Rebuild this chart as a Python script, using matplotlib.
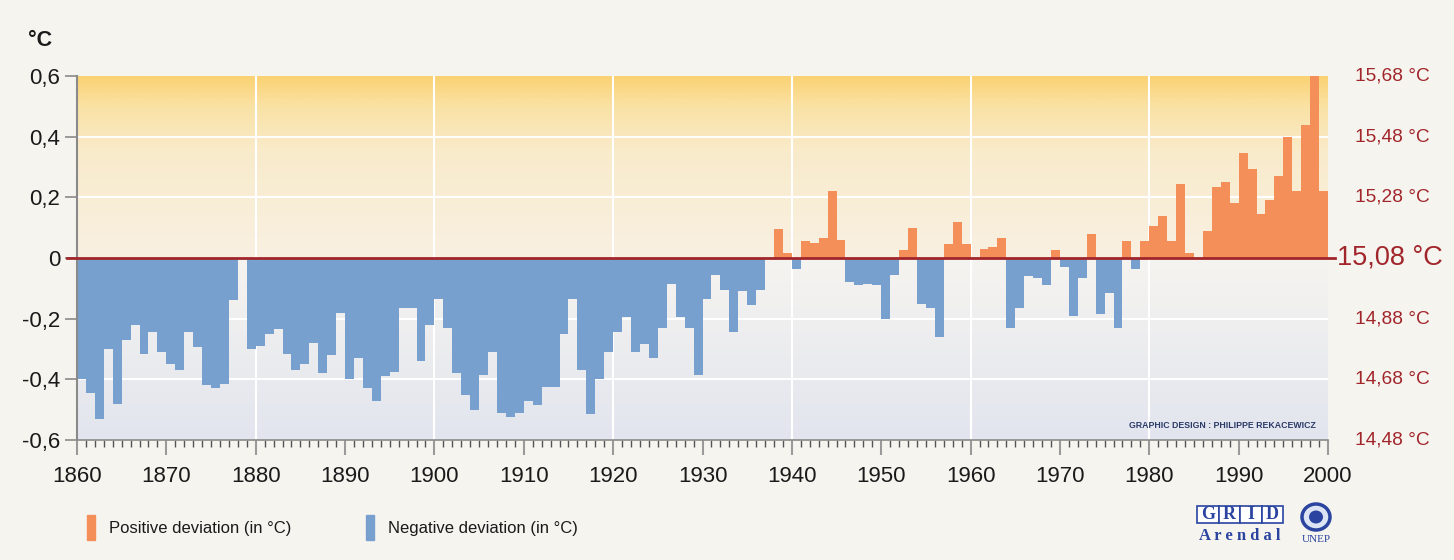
import numpy as np
import matplotlib
matplotlib.use("Agg")
import matplotlib.pyplot as plt
from matplotlib import transforms
from matplotlib.patches import Rectangle, Ellipse

plt.rcParams["font.family"] = ["Liberation Sans", "DejaVu Sans"]

# data: yearly deviation from 15,08 °C
years = list(range(1860, 2000))
deviation = [
    -0.40, -0.445, -0.53, -0.30, -0.48, -0.27, -0.22, -0.315, -0.245, -0.31,    # 1860s
    -0.35, -0.37, -0.245, -0.295, -0.42, -0.43, -0.415, -0.14, 0.0, -0.30,      # 1870s
    -0.29, -0.25, -0.235, -0.315, -0.37, -0.35, -0.28, -0.38, -0.32, -0.18,     # 1880s
    -0.40, -0.33, -0.43, -0.47, -0.39, -0.375, -0.165, -0.165, -0.34, -0.22,    # 1890s
    -0.135, -0.23, -0.38, -0.45, -0.50, -0.385, -0.31, -0.51, -0.525, -0.51,    # 1900s
    -0.47, -0.485, -0.425, -0.425, -0.25, -0.135, -0.37, -0.515, -0.40, -0.31,  # 1910s
    -0.245, -0.195, -0.31, -0.285, -0.33, -0.23, -0.085, -0.195, -0.23, -0.385, # 1920s
    -0.135, -0.055, -0.105, -0.245, -0.11, -0.155, -0.105, 0.0, 0.095, 0.015,   # 1930s
    -0.035, 0.055, 0.05, 0.065, 0.22, 0.06, -0.08, -0.09, -0.085, -0.09,        # 1940s
    -0.20, -0.055, 0.025, 0.10, -0.15, -0.165, -0.26, 0.045, 0.12, 0.045,       # 1950s
    0.0, 0.03, 0.035, 0.065, -0.23, -0.165, -0.06, -0.065, -0.09, 0.025,        # 1960s
    -0.03, -0.19, -0.065, 0.08, -0.185, -0.115, -0.23, 0.055, -0.035, 0.055,    # 1970s
    0.105, 0.14, 0.055, 0.245, 0.015, 0.0, 0.09, 0.235, 0.25, 0.18,             # 1980s
    0.345, 0.295, 0.145, 0.19, 0.27, 0.40, 0.22, 0.44, 0.60, 0.22,              # 1990s
]

y_ticks = [-0.6, -0.4, -0.2, 0.0, 0.2, 0.4, 0.6]
y_labels = ["-0,6", "-0,4", "-0,2", "0", "0,2", "0,4", "0,6"]
abs_labels = ["14,48 °C", "14,68 °C", "14,88 °C", "15,08 °C", "15,28 °C", "15,48 °C", "15,68 °C"]
x_ticks = list(range(1860, 2001, 10))

POS = "#F48F5A"
NEG = "#78A0CF"
RED = "#A1262B"
NAVY = "#2A44A0"
W, H = 1454, 560

fig = plt.figure(figsize=(W / 100, H / 100), dpi=100)
fig.patch.set_facecolor("#F6F4EF")
ax = fig.add_axes([77 / W, 1 - 440 / H, (1328 - 77) / W, (440 - 76) / H])

# background gradient: gold at the top, cream at zero, grey-blue at the bottom
gy = np.linspace(-0.6, 0.6, 400)
stop_y = [-0.6, -0.001, 0.001, 0.35, 0.5, 0.6]
stop_c = np.array([(226, 229, 238), (246, 244, 240), (248, 240, 226),
                   (249, 235, 203), (250, 226, 165), (250, 210, 115)]) / 255
grad = np.stack([np.interp(gy, stop_y, stop_c[:, i]) for i in range(3)], axis=-1)
ax.imshow(grad[:, None, :], extent=[1860, 2000, -0.6, 0.6], origin="lower",
          aspect="auto", zorder=0, interpolation="bilinear")

for v in [-0.4, -0.2, 0.2, 0.4]:
    ax.axhline(v, color="white", lw=1.5, zorder=1)
for x in range(1880, 2000, 20):
    ax.axvline(x, color="white", lw=1.5, zorder=1)

colors = [POS if d > 0 else NEG for d in deviation]
ax.bar(years, deviation, width=1.0, align="edge", color=colors, linewidth=0, zorder=2)

ax.plot([1858.9, 2000.8], [0, 0], color=RED, lw=2, zorder=3, clip_on=False)

ax.set_xlim(1860, 2000)
ax.set_ylim(-0.6, 0.6)
ax.set_xticks(x_ticks)
ax.set_xticklabels([str(t) for t in x_ticks])
ax.set_xticks(range(1860, 2001), minor=True)
ax.set_yticks(y_ticks)
ax.set_yticklabels(y_labels)
ax.tick_params(axis="x", which="major", length=11, width=1.5, color="#9a9a9a",
               labelsize=16, pad=8, labelcolor="#1a1a1a")
ax.tick_params(axis="x", which="minor", length=5, width=1, color="#555555")
ax.tick_params(axis="y", length=9, width=1.2, color="#8a8a8a", labelsize=16,
               pad=3, labelcolor="#1a1a1a")
for s in ["top", "right"]:
    ax.spines[s].set_visible(False)
ax.spines["left"].set_color("#8a8a8a")
ax.spines["left"].set_linewidth(1.5)
ax.spines["bottom"].set_color("#8a8a8a")
ax.spines["bottom"].set_linewidth(1.2)

# absolute temperature scale on the right
tr = transforms.blended_transform_factory(fig.transFigure, ax.transData)
for v, lab in zip(y_ticks, abs_labels):
    if v == 0:
        fig.text(1337 / W, v, lab, transform=tr, color=RED, fontsize=19.5,
                 ha="left", va="center")
    else:
        fig.text(1355 / W, v, lab, transform=tr, color=RED, fontsize=13.8,
                 ha="left", va="center")

fig.text(40 / W, 1 - 40 / H, "°C", fontsize=15.5, fontweight="bold",
         ha="center", va="center", color="#1a1a1a")

fig.text(1316 / W, 1 - 426 / H, "GRAPHIC DESIGN : PHILIPPE REKACEWICZ", fontsize=6.3,
         fontweight="bold", ha="right", va="center", color="#2B3A67")

# legend
fig.add_artist(Rectangle((87 / W, 1 - 540 / H), 8 / W, 25 / H,
                         transform=fig.transFigure, color=POS))
fig.text(109 / W, 1 - 529 / H, "Positive deviation (in °C)", fontsize=12,
         va="center", ha="left", color="#1a1a1a")
fig.add_artist(Rectangle((366 / W, 1 - 540 / H), 8 / W, 25 / H,
                         transform=fig.transFigure, color=NEG))
fig.text(388 / W, 1 - 529 / H, "Negative deviation (in °C)", fontsize=12,
         va="center", ha="left", color="#1a1a1a")

# GRID-Arendal / UNEP marks
serif = ["Liberation Serif", "DejaVu Serif"]
for i, ch in enumerate("GRID"):
    fig.add_artist(Rectangle(((1197 + i * 21.5) / W, 1 - 523 / H), 21.5 / W, 17 / H,
                             transform=fig.transFigure, facecolor="white",
                             edgecolor=NAVY, lw=1.2))
    fig.text((1208 + i * 21.5) / W, 1 - 514.5 / H, ch, family=serif, fontsize=13,
             fontweight="bold", color=NAVY, ha="center", va="center")
fig.text(1240 / W, 1 - 536 / H, "A r e n d a l", family=serif, fontsize=12,
         fontweight="bold", color=NAVY, ha="center", va="center")
fig.add_artist(Ellipse((1316 / W, 1 - 517 / H), 28 / W, 26 / H,
                       transform=fig.transFigure, facecolor="#DCE4F4",
                       edgecolor=NAVY, lw=2.5))
fig.add_artist(Ellipse((1316 / W, 1 - 517 / H), 14 / W, 13 / H,
                       transform=fig.transFigure, facecolor=NAVY, edgecolor="none"))
fig.text(1316 / W, 1 - 539 / H, "UNEP", family=serif, fontsize=8,
         color=NAVY, ha="center", va="center")

fig.savefig("out.png", dpi=100, facecolor=fig.get_facecolor())
